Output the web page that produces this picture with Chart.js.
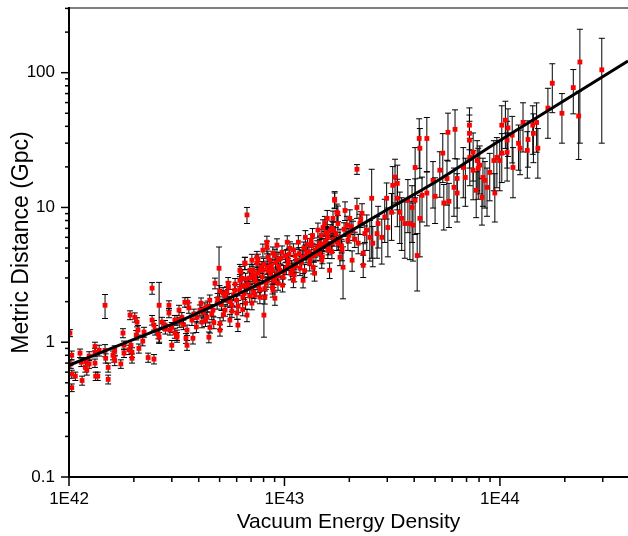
<!DOCTYPE html>
<html>
<head>
<meta charset="utf-8">
<title>Metric Distance vs Vacuum Energy Density</title>
<script src="https://cdn.jsdelivr.net/npm/chart.js@4.4.0/dist/chart.umd.min.js"></script>
<style>
  html, body { margin: 0; padding: 0; background: #fff; }
  #wrap { width: 628px; height: 536px; }
</style>
</head>
<body>
<div id="wrap"><canvas id="chart" width="628" height="536"></canvas></div>
<script>
// Vacuum energy density, in units of 1E42
const energyE42 = [
  // low end
  1.01, 1.03, 1.02, 1.03, 1.07, 1.03, 1.125, 1.14, 1.15, 1.19,
  1.21, 1.24, 1.24, 1.32, 1.32, 1.32, 1.33, 1.36, 1.38, 1.47,
  1.47, 1.48, 1.52, 1.52, 1.62, 1.63, 1.63, 1.74, 1.78, 1.80,
  1.80, 1.92, 1.94, 1.96, 1.96, 2.02, 2.07, 2.09, 2.05, 2.11,
  2.23, 2.33, 2.48, 2.43, 2.62, 2.43, 2.48, 2.51, 2.62, 2.70,
  2.79, 2.91, 2.91, 2.94, 3.00, 3.10, 3.17, 3.24, 3.27, 1.2,
  1.6, 1.9, 2.2, 2.6, 2.8, 3.4,
  // 3E42 - 1E43
  3.00, 3.10, 3.17, 3.17, 3.34, 3.45, 3.53, 3.49, 3.56, 3.53,
  3.76, 3.72, 3.93, 4.05, 4.14, 4.27, 4.37, 4.51, 4.46, 4.66,
  4.76, 4.87, 4.97, 5.02, 5.02, 5.19, 5.30, 5.42, 5.48, 5.58,
  5.70, 5.89, 6.02, 6.08, 6.21, 6.28, 6.41, 6.55, 6.70, 6.70,
  6.91, 7.06, 7.14, 7.29, 7.45, 7.45, 7.53, 7.69, 7.94, 8.03,
  8.11, 8.29, 8.29, 8.38, 8.56, 8.75, 8.84, 9.03, 9.23, 9.23,
  9.33, 9.03, 3.8, 4.2, 4.4, 4.6, 4.9, 5.1, 5.3, 5.6,
  5.8, 6.0, 6.2, 6.5, 6.8, 7.0, 7.3, 7.6, 7.9, 8.2,
  8.6, 9.0, 9.4, 9.9, 5.5, 6.6, 7.8, 8.8,
  // 6E42 - 2E43
  6.70, 6.21, 6.35, 6.55, 6.55, 6.91, 7.06, 7.29, 7.53, 7.69,
  7.94, 8.29, 8.38, 8.56, 8.75, 8.84, 9.33, 9.53, 9.74, 9.84,
  10.3, 10.4, 10.6, 10.8, 11.0, 11.2, 11.6, 11.8, 12.1, 12.2,
  12.5, 12.7, 13.1, 13.4, 13.5, 13.8, 14.0, 14.3, 14.6, 14.9,
  15.4, 15.8, 15.9, 16.2, 16.6, 16.8, 17.1, 17.5, 17.7, 18.1,
  10.1, 10.4, 10.9, 11.1, 11.4, 12.0, 12.3, 12.6, 13.2, 13.6,
  13.9, 14.6, 15.2, 15.6, 16.0, 16.9, 17.8,
  // dense band along the fit
  3.6, 3.9, 4.1, 4.3, 4.5, 4.7, 5.0, 5.2, 5.4, 5.7,
  5.9, 6.1, 6.3, 6.4, 6.6, 6.9, 7.1, 7.2, 7.5, 7.7,
  8.0, 8.1, 8.4, 8.7, 8.9, 9.1, 9.3, 9.6, 9.8, 10.2,
  10.5, 10.7, 11.0, 11.3, 11.7, 12.4, 12.8, 13.0, 13.3, 13.7,
  14.2, 14.8, 15.0, 15.5, 16.3, 16.6, 17.3, 18.4, 18.9, 19.9,
  20.4, 21.2, 22.6, 23.6,
  // 1.5E43 - 5E43
  17.1, 21.7, 14.6, 15.1, 15.8, 15.9, 16.6, 16.8, 17.5, 17.7,
  18.1, 18.5, 18.7, 19.1, 19.5, 19.7, 20.1, 20.6, 20.8, 21.7,
  22.0, 22.4, 22.9, 23.2, 23.2, 24.1, 24.9, 25.4, 25.7, 26.9,
  27.2, 28.3, 29.2, 29.8, 30.2, 31.4, 31.8, 32.6, 33.4, 33.4,
  34.3, 35.0, 36.2, 37.4, 38.2, 39.1, 39.5, 40.4, 40.4, 41.3,
  42.2, 42.5, 42.5, 45.8, 45.8,
  // 4E43 - 1.4E44
  43.5, 50.0, 48.9, 52.6, 54.3, 54.9, 56.8, 57.4, 58.0, 61.2,
  61.9, 63.3, 63.3, 67.6, 69.1, 72.2, 72.2, 72.2, 72.5, 75.1,
  75.1, 77.6, 78.4, 79.3, 80.6, 82.5, 83.4, 85.2, 87.1, 89.7,
  93.7, 94.7, 96.8, 99.8, 102, 102, 106, 108, 108, 109,
  114, 115, 122, 124, 128, 134, 135,
  // high end
  142, 148, 143, 150, 167, 175, 194, 219, 235, 232, 297
];

// Metric distance (Gpc)
const distance = [
  1.17, 0.80, 0.69, 0.58, 0.56, 0.46, 0.83, 0.71, 0.52, 0.65,
  0.62, 0.79, 0.69, 0.93, 0.84, 0.70, 0.56, 0.56, 0.87, 1.88,
  0.87, 0.76, 0.65, 0.53, 0.77, 0.87, 0.73, 0.69, 1.17, 0.95,
  0.83, 1.59, 0.95, 0.84, 0.76, 1.53, 1.41, 1.23, 1.13, 0.90,
  1.19, 0.77, 0.75, 2.52, 1.88, 1.46, 1.34, 1.23, 1.09, 1.41,
  1.34, 1.88, 1.65, 1.23, 0.95, 1.46, 1.13, 1.73, 1.41, 0.72,
  0.80, 0.88, 1.02, 1.15, 1.25, 1.35,

  1.29, 1.17, 1.46, 1.09, 1.53, 1.98, 1.23, 1.07, 1.98, 0.95,
  1.07, 1.46, 1.53, 1.73, 1.41, 1.79, 1.53, 1.29, 1.09, 1.73,
  2.74, 1.95, 3.54, 1.38, 1.23, 2.31, 1.73, 2.05, 2.74, 1.46,
  1.88, 2.43, 1.65, 1.34, 2.88, 3.30, 2.16, 3.86, 2.56, 1.59,
  3.00, 1.95, 3.42, 2.23, 3.86, 4.27, 2.74, 2.16, 3.42, 1.59,
  2.16, 5.52, 5.07, 2.88, 4.06, 3.42, 2.43, 4.40, 5.25, 3.25,
  2.74, 2.12, 1.62, 1.66, 1.85, 1.62, 2.10, 1.90, 2.20, 2.00,
  2.25, 2.05, 2.45, 2.30, 2.70, 2.50, 2.85, 2.60, 3.05, 2.75,
  3.25, 3.00, 3.65, 3.35, 2.55, 1.95, 3.60, 2.55,

  8.80, 3.42, 2.98, 3.86, 2.65, 3.42, 4.06, 3.04, 4.06, 3.42,
  4.82, 3.60, 4.27, 3.60, 3.04, 4.58, 4.06, 3.42, 4.65, 3.04,
  5.52, 4.06, 4.98, 3.60, 2.88, 4.40, 5.52, 3.54, 4.27, 2.88,
  6.00, 4.65, 3.86, 5.25, 6.20, 3.25, 4.58, 6.80, 5.43, 4.06,
  7.60, 6.20, 4.80, 3.42, 7.00, 8.30, 11.3, 5.52, 9.05, 4.27,
  4.35, 3.80, 3.45, 3.15, 4.05, 3.90, 5.00, 4.35, 4.15, 3.60,
  4.80, 4.55, 5.30, 6.50, 5.00, 5.80, 5.40,

  1.80, 1.30, 1.95, 1.45, 2.05, 1.40, 2.40, 1.60, 2.35, 1.70,
  2.70, 1.85, 2.60, 1.75, 2.95, 2.20, 3.15, 2.35, 3.25, 2.45,
  3.80, 2.50, 3.40, 3.70, 2.85, 3.90, 3.10, 4.20, 2.65, 3.55,
  4.50, 3.25, 4.85, 3.70, 4.55, 3.40, 5.30, 4.70, 5.70, 4.40,
  5.10, 6.20, 4.30, 5.60, 6.70, 4.70, 6.40, 5.20, 6.90, 6.20,
  7.20, 5.80, 8.20, 6.40,

  11.5, 19.2, 5.07, 7.10, 8.30, 6.00, 5.43, 6.80, 9.20, 7.60,
  6.00, 4.82, 3.60, 9.50, 7.40, 5.70, 8.30, 4.06, 6.80, 10.0,
  5.43, 7.60, 9.05, 4.58, 3.72, 6.80, 6.00, 11.7, 5.43, 6.40,
  7.60, 6.00, 8.50, 11.7, 7.10, 9.20, 14.6, 16.8, 11.7, 15.1,
  9.20, 8.30, 7.60, 11.3, 7.60, 10.0, 7.40, 19.8, 11.3, 4.40,
  32.5, 27.5, 8.30, 32.5, 12.8,

  12.3, 12.1, 15.9, 18.9, 25.3, 10.8, 16.4, 36.1, 11.1, 14.1,
  38.0, 12.8, 16.4, 19.8, 16.7, 40.8, 35.5, 31.6, 23.5, 25.7,
  18.9, 13.4, 22.3, 19.5, 20.6, 11.9, 16.7, 15.9, 14.1, 18.2,
  22.3, 12.8, 23.5, 22.3, 40.8, 25.3, 44.4, 31.6, 25.7, 38.9,
  34.4, 19.8, 29.9, 27.5, 42.8, 26.5, 31.9,

  40.8, 42.7, 35.5, 27.5, 54.6, 83.5, 50.0, 77.5, 120, 47.7, 105
];

// Error on metric distance (Gpc)
const distErr = [
  0.07, 0.06, 0.05, 0.04, 0.04, 0.03, 0.06, 0.05, 0.04, 0.05,
  0.05, 0.06, 0.05, 0.07, 0.06, 0.05, 0.04, 0.04, 0.08, 0.38,
  0.09, 0.06, 0.05, 0.04, 0.06, 0.07, 0.06, 0.05, 0.09, 0.07,
  0.06, 0.12, 0.08, 0.07, 0.06, 0.12, 0.11, 0.10, 0.09, 0.07,
  0.10, 0.06, 0.06, 0.25, 0.90, 0.12, 0.11, 0.10, 0.09, 0.12,
  0.11, 0.15, 0.13, 0.10, 0.08, 0.12, 0.10, 0.15, 0.12, 0.05,
  0.06, 0.07, 0.08, 0.09, 0.10, 0.11,

  0.11, 0.10, 0.12, 0.09, 0.13, 0.16, 0.11, 0.09, 0.17, 0.08,
  0.10, 0.13, 0.14, 0.16, 0.13, 0.17, 0.14, 0.12, 0.10, 0.17,
  0.25, 0.19, 1.55, 0.14, 0.12, 0.23, 0.17, 0.20, 0.28, 0.15,
  0.19, 0.25, 0.17, 0.14, 0.30, 0.35, 0.22, 0.40, 0.27, 0.17,
  0.32, 0.21, 0.36, 0.24, 0.41, 0.45, 0.29, 0.23, 0.37, 0.50,
  0.24, 0.60, 0.55, 0.32, 0.45, 0.38, 0.27, 0.50, 0.60, 0.36,
  0.31, 0.24, 0.14, 0.15, 0.17, 0.15, 0.20, 0.18, 0.21, 0.19,
  0.22, 0.20, 0.24, 0.23, 0.27, 0.25, 0.29, 0.27, 0.31, 0.28,
  0.34, 0.31, 0.38, 0.35, 0.25, 0.20, 0.37, 0.27,

  1.20, 0.36, 0.31, 0.41, 0.28, 0.37, 0.43, 0.33, 0.44, 0.37,
  0.53, 0.40, 0.47, 0.40, 0.34, 0.51, 0.46, 0.39, 0.53, 0.35,
  0.64, 0.47, 0.58, 0.42, 0.34, 0.52, 0.66, 0.42, 0.51, 0.35,
  0.73, 0.57, 0.48, 0.65, 0.77, 0.41, 0.57, 0.86, 0.69, 0.52,
  0.98, 0.80, 0.62, 0.45, 0.92, 1.10, 1.50, 0.73, 1.20, 0.57,
  0.46, 0.40, 0.37, 0.34, 0.43, 0.42, 0.54, 0.47, 0.45, 0.39,
  0.52, 0.50, 0.58, 0.72, 0.55, 0.64, 0.60,

  0.16, 0.12, 0.18, 0.14, 0.19, 0.14, 0.23, 0.16, 0.23, 0.17,
  0.27, 0.19, 0.26, 0.18, 0.30, 0.22, 0.32, 0.24, 0.33, 0.25,
  0.39, 0.26, 0.35, 0.38, 0.30, 0.41, 0.33, 0.44, 0.29, 0.38,
  0.48, 0.35, 0.52, 0.40, 0.49, 0.37, 0.58, 0.51, 0.62, 0.48,
  0.56, 0.68, 0.48, 0.62, 0.75, 0.53, 0.72, 0.60, 0.80, 0.75,
  0.90, 0.75, 1.10, 0.90,

  1.6, 1.6, 0.7, 1.0, 1.2, 0.9, 0.8, 1.0, 1.4, 1.1,
  0.9, 0.8, 1.5, 1.5, 1.2, 0.9, 1.3, 0.7, 1.1, 1.7,
  0.9, 1.3, 1.6, 0.8, 0.7, 2.0, 2.0, 7.5, 1.8, 2.2,
  2.6, 2.2, 3.0, 3.5, 2.8, 3.5, 5.5, 6.0, 4.5, 5.5,
  3.8, 3.5, 3.4, 4.8, 3.5, 4.5, 3.4, 8.0, 5.0, 2.0,
  13, 11, 4.0, 14, 5.5,

  4.5, 4.5, 6, 7, 10, 4, 6, 14, 4, 5.5,
  15, 5, 6.5, 8, 6.5, 14, 13, 12, 9, 10,
  7.5, 5, 9, 8, 8, 4.5, 6.5, 6, 5.5, 7,
  9, 5, 9.5, 9, 16, 10, 17, 12, 10, 15,
  13, 8, 11, 10, 17, 10, 12,

  16, 17, 14, 11, 22, 33, 20, 28, 90, 25, 75
];

// Fitted curve at a few energies
const fitEnergyE42 = [1, 2, 3.34, 5, 9.5, 18.1, 30, 47.3, 100, 138, 393];
const fitDistance = [0.675, 1.05, 1.46, 1.96, 3.25, 6.0, 9.65, 14.6, 31.4, 43.2, 122];

// Axis ranges and labelled ticks
const xRange = [1e42, 3.93e44];
const yRange = [0.1, 302];
const xTicks = [1e42, 1e43, 1e44];
const yTicks = [0.1, 1, 10, 100];

Chart.defaults.font.family = "'Liberation Sans', Arial, sans-serif";
Chart.defaults.color = '#000';

const points = energyE42.map((e, i) => ({ x: e * 1e42, y: distance[i] }));
const fitLine = fitEnergyE42.map((e, i) => ({ x: e * 1e42, y: fitDistance[i] }));

// Vertical error bars with small caps, drawn under the markers
const errorBars = {
  id: 'errorBars',
  beforeDatasetsDraw(chart) {
    const { ctx, chartArea: a, scales: { x, y } } = chart;
    ctx.save();
    ctx.beginPath();
    ctx.rect(a.left, a.top, a.right - a.left, a.bottom - a.top);
    ctx.clip();
    ctx.strokeStyle = '#000';
    ctx.lineWidth = 1;
    energyE42.forEach((e, i) => {
      const px = x.getPixelForValue(e * 1e42);
      const hi = y.getPixelForValue(distance[i] + distErr[i]);
      const lo = y.getPixelForValue(Math.max(distance[i] - distErr[i], 0.01));
      ctx.beginPath();
      ctx.moveTo(px, hi); ctx.lineTo(px, lo);
      ctx.moveTo(px - 3, hi); ctx.lineTo(px + 3, hi);
      ctx.moveTo(px - 3, lo); ctx.lineTo(px + 3, lo);
      ctx.stroke();
    });
    ctx.restore();
  }
};

// Origin style frame: heavy left/bottom axes, outward major + minor ticks, grey top edge
const originFrame = {
  id: 'originFrame',
  afterDatasetsDraw(chart) {
    const { ctx, chartArea: a, scales: { x, y } } = chart;
    const seg = (x1, y1, x2, y2) => {
      ctx.beginPath(); ctx.moveTo(x1, y1); ctx.lineTo(x2, y2); ctx.stroke();
    };
    ctx.save();
    ctx.strokeStyle = '#808080';
    ctx.lineWidth = 2;
    seg(a.left, a.top, a.right, a.top);

    ctx.strokeStyle = '#000';
    seg(a.left, a.top - 1, a.left, a.bottom + 1);
    seg(a.left - 1, a.bottom, a.right, a.bottom);

    ctx.lineWidth = 1.5;
    for (let d = 42; d <= 44; d++) {
      for (let m = 1; m <= 9; m++) {
        const v = m * Math.pow(10, d);
        if (v > x.max) break;
        const px = x.getPixelForValue(v);
        seg(px, a.bottom, px, a.bottom + (m === 1 ? 9 : 5));
      }
    }
    for (let d = -1; d <= 2; d++) {
      for (let m = 1; m <= 9; m++) {
        const v = m * Math.pow(10, d);
        if (v > y.max) break;
        const py = y.getPixelForValue(v);
        seg(a.left, py, a.left - (m === 1 ? 8 : 4), py);
      }
    }
    ctx.restore();
  }
};

new Chart(document.getElementById('chart'), {
  data: {
    datasets: [
      {
        type: 'line',
        label: 'Fit',
        data: fitLine,
        borderColor: '#000',
        borderWidth: 3,
        pointRadius: 0,
        cubicInterpolationMode: 'monotone',
        fill: false,
        order: 0
      },
      {
        type: 'scatter',
        label: 'Data',
        data: points,
        pointStyle: 'rect',
        pointRadius: 3.4,
        backgroundColor: '#ff0000',
        borderWidth: 0,
        order: 1
      }
    ]
  },
  options: {
    responsive: false,
    devicePixelRatio: 1,
    animation: false,
    events: [],
    layout: { autoPadding: false, padding: { top: 8, right: 0, bottom: 0, left: 0 } },
    plugins: {
      legend: { display: false },
      tooltip: { enabled: false }
    },
    scales: {
      x: {
        type: 'logarithmic',
        min: xRange[0],
        max: xRange[1],
        grid: { display: false, drawTicks: false },
        border: { display: false },
        afterBuildTicks: s => { s.ticks = xTicks.map(v => ({ value: v })); },
        afterFit: s => { s.height = 59; s.paddingLeft = 0; s.paddingRight = 0; },
        ticks: {
          padding: 12,
          maxRotation: 0,
          autoSkip: false,
          font: { size: 17 },
          callback: v => '1E' + Math.round(Math.log10(v))
        },
        title: {
          display: true,
          text: 'Vacuum Energy Density',
          font: { size: 21 },
          padding: { top: 0, bottom: 1 }
        }
      },
      y: {
        type: 'logarithmic',
        min: yRange[0],
        max: yRange[1],
        grid: { display: false, drawTicks: false },
        border: { display: false },
        afterBuildTicks: s => { s.ticks = yTicks.map(v => ({ value: v })); },
        afterFit: s => { s.width = 69; s.paddingTop = 0; s.paddingBottom = 0; },
        ticks: {
          padding: 14,
          font: { size: 17 },
          callback: v => String(v)
        },
        title: {
          display: true,
          text: 'Metric Distance (Gpc)',
          font: { size: 23 },
          padding: { top: 8, bottom: 0 }
        }
      }
    }
  },
  plugins: [errorBars, originFrame]
});
</script>
</body>
</html>
